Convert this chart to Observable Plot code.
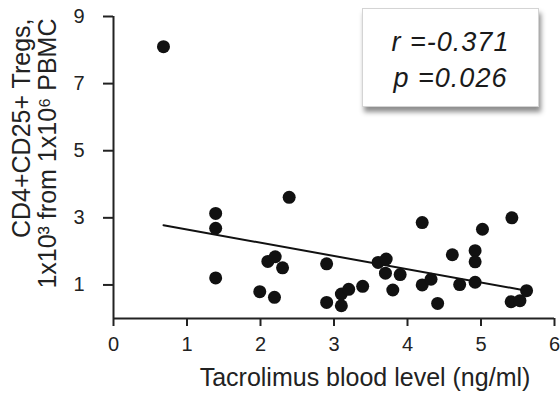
<!DOCTYPE html>
<html>
<head>
<meta charset="utf-8">
<script src="https://cdn.jsdelivr.net/npm/d3@7"></script>
<script src="https://cdn.jsdelivr.net/npm/@observablehq/plot@0.6"></script>
<style>
  body { margin: 0; background: #fff; }
  #wrap { position: relative; width: 560px; height: 395px; font-family: "Liberation Sans", Arial, sans-serif; }
  #stats {
    position: absolute; left: 362px; top: 8px; width: 177px; height: 99px;
    background: #fff; border: 1px solid #d4d4d4; box-sizing: border-box;
    box-shadow: 2px 5px 5px rgba(0,0,0,0.45);
    font-style: italic; font-size: 27px; letter-spacing: 1px; color: #1a1a1a;
    text-align: center; line-height: 36px; padding-top: 15px;
  }
</style>
</head>
<body>
<div id="wrap"><div id="stats"></div></div>
<script>
// Tacrolimus blood level (ng/ml)
const tacrolimus = [0.68, 1.39, 1.39, 1.39, 2.39, 1.99, 2.19, 2.10, 2.20, 2.30,
  2.90, 2.90, 3.10, 3.10, 3.20, 3.39, 3.60, 3.71, 3.70, 3.80,
  3.90, 4.20, 4.20, 4.32, 4.41, 4.61, 4.71, 4.92, 4.92, 4.92,
  5.02, 5.42, 5.41, 5.53, 5.62];
// CD4+CD25+ Tregs, 1x10^3 from 1x10^6 PBMC
const tregs = [8.10, 3.13, 2.69, 1.21, 3.61, 0.80, 0.63, 1.70, 1.84, 1.51,
  1.63, 0.48, 0.38, 0.73, 0.87, 0.96, 1.67, 1.77, 1.35, 0.85,
  1.31, 2.86, 1.00, 1.17, 0.45, 1.90, 1.01, 2.02, 1.69, 1.08,
  2.66, 3.00, 0.50, 0.53, 0.83];
const xTicks = [0, 1, 2, 3, 4, 5, 6];
const yTicks = [1, 3, 5, 7, 9];
const xLabel = "Tacrolimus blood level (ng/ml)";
const yLabel = ["CD4+CD25+ Tregs,", "1x10³ from 1x10⁶ PBMC"];
const stats = ["r =-0.371", "p =0.026"];

const data = tacrolimus.map((x, i) => ({x, y: tregs[i]}));
const font = '"Liberation Sans", Arial, sans-serif';

const chart = Plot.plot({
  width: 560, height: 395,
  marginLeft: 113, marginRight: 6, marginTop: 16, marginBottom: 77,
  style: {fontFamily: font, fontSize: "20px", color: "#222", background: "white", overflow: "visible"},
  x: {domain: [0, 6], ticks: xTicks, tickFormat: d3.format("d"), tickSize: 8, tickPadding: 10, label: null},
  y: {domain: [0, 9], ticks: yTicks, tickFormat: d3.format("d"), tickSize: 10, tickPadding: 19, label: null},
  marks: [
    Plot.ruleY([0], {stroke: "#222", strokeWidth: 2}),
    Plot.ruleX([0], {stroke: "#222", strokeWidth: 2}),
    Plot.linearRegressionY(data, {x: "x", y: "y", ci: 0, stroke: "#111", strokeWidth: 2}),
    Plot.dot(data, {x: "x", y: "y", r: 6.5, fill: "#111"}),
    Plot.text([xLabel], {text: d => d, frameAnchor: "bottom", lineAnchor: "top", dx: 31, dy: 50, fontSize: 25, fill: "#222"}),
    Plot.text([yLabel.join("\n")], {text: d => d, frameAnchor: "top-left", rotate: -90, textAnchor: "end",
      lineAnchor: "middle", lineHeight: 1.06, dx: -79, dy: 2, fontSize: 25, fill: "#222"})
  ]
});
d3.select(chart).selectAll('g[aria-label*="axis"] path, g[aria-label*="axis"] line').attr("stroke-width", 2);
document.getElementById("wrap").prepend(chart);
document.getElementById("stats").innerHTML = stats.map(s => `<div>${s}</div>`).join("");
</script>
</body>
</html>
